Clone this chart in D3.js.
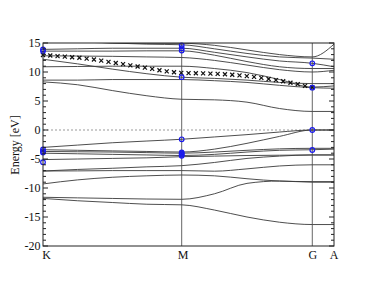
<!DOCTYPE html>
<html><head><meta charset="utf-8">
<script src="https://cdn.jsdelivr.net/npm/d3@7"></script>
<style>body{margin:0;background:#fff}svg{display:block}text{font-family:"Liberation Serif","Times New Roman",serif}</style>
</head><body><svg id="c" width="376" height="291"></svg>
<script>
// High-symmetry points (k positions along path, fraction of path)
const kLabels = ["K","M","G","A"];
const kTicks = [0, 0.4766, 0.9254, 1.0];
// k grid on which band energies are sampled
const kGrid = [0, 0.119, 0.238, 0.357, 0.4766, 0.589, 0.701, 0.813, 0.9254, 1.0];
const yTicks = [-20,-15,-10,-5,0,5,10,15];
// Band energies (eV) at kGrid
const bands = [
  [15.5,15.2,15.0,14.95,14.95,14.6,13.8,13.0,12.6,14.8],
  [15.6,15.3,15.0,14.8,14.7,14.0,13.2,12.6,12.4,12.2],
  [13.9,14.0,14.1,14.1,14.1,13.4,12.6,11.9,11.5,10.9],
  [13.6,13.6,13.6,13.65,13.65,12.9,11.8,10.9,10.6,10.6],
  [12.8,12.75,12.7,12.6,12.5,12.0,11.2,10.4,10.0,10.3],
  [12.2,11.4,10.5,9.7,9.1,8.9,8.6,8.2,8.0,8.0],
  [10.9,10.95,11.0,11.0,11.0,10.6,9.9,8.7,7.4,7.6],
  [8.6,8.6,8.7,8.7,8.7,8.5,8.2,7.7,7.3,7.2],
  [8.3,7.8,6.8,5.9,5.3,5.2,4.8,3.7,3.2,3.2],
  [-3.0,-2.6,-2.2,-1.9,-1.6,-1.2,-0.8,-0.35,0,0],
  [-3.4,-3.5,-3.6,-3.7,-3.8,-3.3,-2.3,-1.1,0,0],
  [-3.7,-3.75,-3.8,-3.9,-4.0,-3.8,-3.5,-3.25,-3.16,-3.16],
  [-4.0,-4.1,-4.2,-4.3,-4.4,-4.2,-3.8,-3.5,-3.4,-3.3],
  [-5.1,-5.0,-4.9,-4.8,-4.6,-4.5,-4.4,-4.35,-4.3,-4.3],
  [-7.07,-6.8,-6.6,-6.35,-6.15,-5.6,-4.9,-4.5,-4.3,-4.3],
  [-7.07,-7.05,-7.0,-7.0,-7.0,-7.1,-6.7,-6.2,-6.0,-6.0],
  [-9.3,-8.6,-8.15,-7.9,-7.76,-7.9,-8.4,-8.8,-8.9,-8.9],
  [-11.6,-11.7,-11.8,-11.9,-11.95,-11.0,-9.2,-8.8,-9.0,-9.0],
  [-11.8,-12.2,-12.5,-12.8,-12.9,-13.8,-15.0,-15.9,-16.3,-16.3]
];
// Crossed series (evenly spaced from K to G)
const crossE = [12.93,12.85,12.75,12.65,12.55,12.45,12.3,12.15,11.95,11.75,11.55,11.35,11.15,10.95,10.75,10.55,10.3,10.1,9.95,9.85,9.8,9.78,9.75,9.72,9.68,9.62,9.52,9.42,9.3,9.15,9.0,8.8,8.6,8.4,8.15,7.9,7.6,7.35];
// Highlighted states (blue circles): [k index into kTicks, energy]
const circK = [0,0,0,0,0,0, 1,1,1,1,1,1,1,1,1, 2,2,2,2];
const circE = [13.9,13.6,-3.35,-3.65,-3.9,-5.55, 14.6,14.1,13.7,9.1,-1.6,-3.85,-4.05,-4.25,-4.45, 11.5,7.3,0,-3.45];

const svg = d3.select("#c");
const x = d3.scaleLinear().domain([0,1]).range([43,334]);
const y = d3.scaleLinear().domain([-20,15]).range([246,43]);

// vertical lines at M and G
svg.selectAll("line.vk").data(kTicks.slice(1,3)).join("line")
  .attr("x1",d=>x(d)).attr("x2",d=>x(d)).attr("y1",y(15)).attr("y2",y(-20))
  .attr("stroke","#666").attr("stroke-width",1);

// Fermi level
svg.append("line").attr("x1",x(0)).attr("x2",x(1)).attr("y1",y(0)).attr("y2",y(0))
  .attr("stroke","#999").attr("stroke-dasharray","2,2").attr("stroke-width",1);

const g = svg.append("g");
const line = d3.line().x((d,i)=>x(kGrid[i])).y(d=>y(d)).curve(d3.curveMonotoneX);
g.append("defs").append("clipPath").attr("id","clp").append("rect")
  .attr("x",43).attr("y",43).attr("width",291).attr("height",203);
g.selectAll("path.band").data(bands).join("path").attr("clip-path","url(#clp)")
  .attr("d",line).attr("fill","none").attr("stroke","#3a3a3a").attr("stroke-width",0.9);

// crosses
const kG = kTicks[2];
const cs = 2.0;
const cg = svg.append("g").attr("stroke","#111").attr("stroke-width",1.2);
crossE.forEach((e,i)=>{
  const cx = x(kG*i/(crossE.length-1)), cy = y(e);
  cg.append("path").attr("d",`M${cx-cs},${cy-cs}L${cx+cs},${cy+cs}M${cx-cs},${cy+cs}L${cx+cs},${cy-cs}`);
});

// circles
svg.selectAll("circle.st").data(circE).join("circle")
  .attr("cx",(d,i)=>x(kTicks[circK[i]])).attr("cy",d=>y(d)).attr("r",2.3)
  .attr("fill","none").attr("stroke","#1a1aee").attr("stroke-width",1.2);

// frame
svg.append("rect").attr("x",43).attr("y",43).attr("width",291).attr("height",203)
  .attr("fill","none").attr("stroke","#222").attr("stroke-width",1);

// y ticks
const minor = d3.range(-20,15.01,1);
minor.forEach(v=>{
  const isMaj = v%5===0;
  const L = isMaj?5:3;
  svg.append("line").attr("x1",43).attr("x2",43+L).attr("y1",y(v)).attr("y2",y(v)).attr("stroke","#222");
  svg.append("line").attr("x1",334).attr("x2",334-L).attr("y1",y(v)).attr("y2",y(v)).attr("stroke","#222");
});
svg.selectAll("text.yt").data(yTicks).join("text")
  .attr("x",40.5).attr("y",d=>y(d)+3.5).attr("text-anchor","end")
  .attr("font-size",12).attr("fill","#111").text(d=>d);

// k labels
const kShift = [3.5,1.5,0.5,0];
svg.selectAll("text.kl").data(kLabels).join("text")
  .attr("x",(d,i)=>x(kTicks[i])+kShift[i]).attr("y",259).attr("text-anchor","middle")
  .attr("font-size",12).attr("fill","#111").text(d=>d);

// y label
svg.append("text").attr("transform","translate(19,145) rotate(-90)")
  .attr("text-anchor","middle").attr("font-size",12).attr("fill","#111").text("Energy [eV]");
</script></body></html>
